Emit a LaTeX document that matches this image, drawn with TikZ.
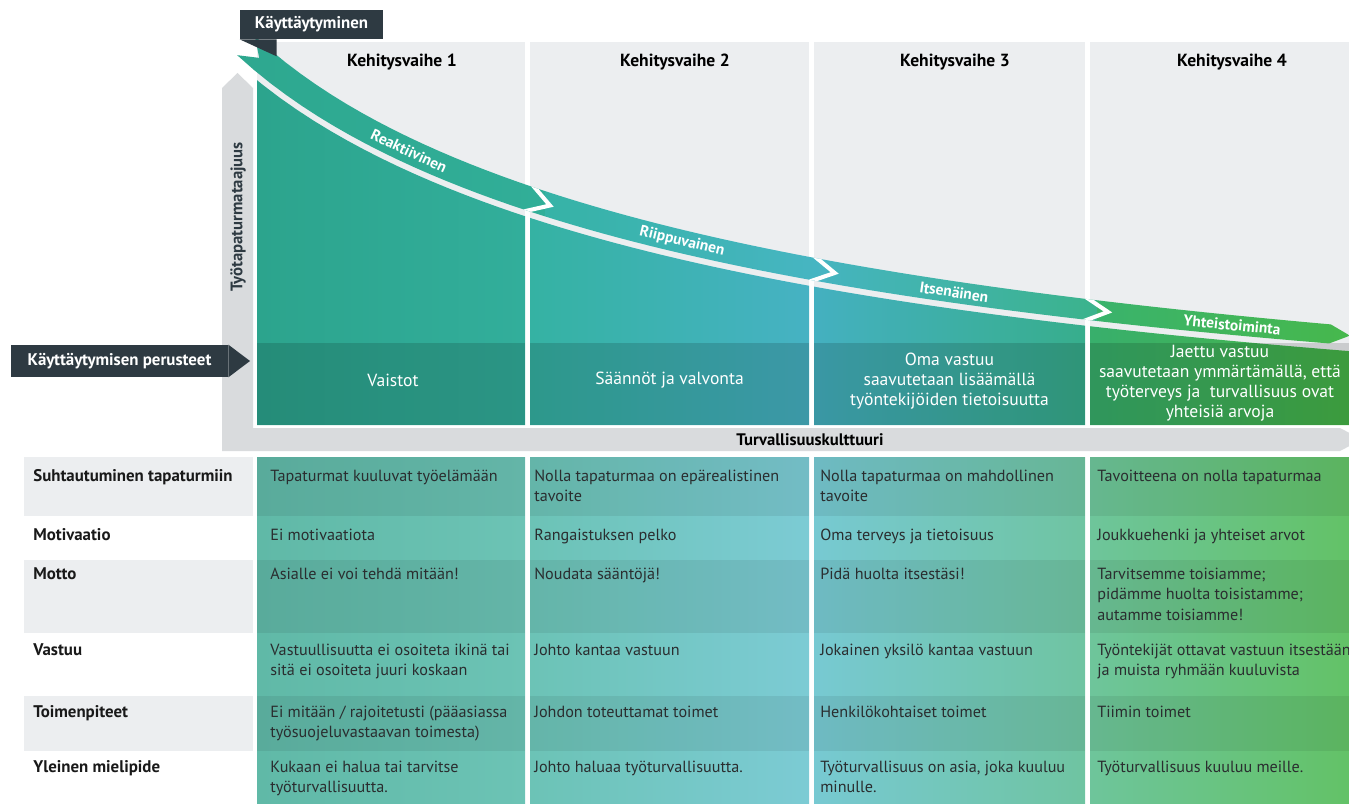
\documentclass[tikz,border=0pt]{standalone}
\usepackage{fontspec}
\setmainfont{PT Sans}
\usepackage{tikz}
\usetikzlibrary{calc}

\definecolor{darkslate}{HTML}{2E3A42}
\definecolor{panelgray}{HTML}{ECEEF0}
\definecolor{framegray}{HTML}{D9DBDD}
\definecolor{celltxt}{HTML}{2A2D2F}

\tikzset{
  darklabel/.style={fill=darkslate, text=white, font=\bfseries\fontsize{9.6}{11}\selectfont, inner sep=0pt},
  headtext/.style={font=\bfseries\fontsize{10}{12}\selectfont, text=black},
  axistext/.style={font=\bfseries\fontsize{9.5}{11}\selectfont, text=darkslate},
  bandtext/.style={font=\bfseries\fontsize{8.8}{10}\selectfont, text=white, inner sep=0pt},
  basetext/.style={font=\fontsize{10}{11.4}\selectfont, text=white, align=center},
  rowlabel/.style={font=\bfseries\fontsize{9.6}{11}\selectfont, anchor=base west, inner sep=0pt, text=black!90},
  celltext/.style={font=\fontsize{9.2}{11.9}\selectfont, anchor=base west, inner sep=0pt, text=celltxt}
}

\newcommand{\cellbox}[1]{\parbox[t]{5.3cm}{\raggedright #1}}
\newcommand{\tablerow}[7]{
    % Row label
    \node[rowlabel] (#1-lab) at (33,#2) {#3};
    % Cells of the four stages
    \node[celltext] (#1-a) at (270,#2) {\cellbox{#4}};
    \node[celltext] (#1-b) at (534,#2) {\cellbox{#5}};
    \node[celltext] (#1-c) at (820,#2) {\cellbox{#6}};
    \node[celltext] (#1-d) at (1097,#2) {\cellbox{#7}};
}

\begin{document}
\begin{tikzpicture}[x=0.02cm, y=-0.02cm,
  declare function={
    cy(\t)=100*(4.729-22.5618/(\t/100+2.935))-10*exp(-(\t-240)/60);
    sl(\t)=22.5618/((\t/100+2.935)^2)+exp(-(\t-240)/60)/6;
    nn(\t)=sqrt(1+sl(\t)^2);
    hw(\t)=13-3.5*(\t-240)/1109;
  }]
  \useasboundingbox (0,0) rectangle (1349,804);

  % Draw the gray frame (axes)
  \fill[framegray] (222,451) -- (222,88) -- (237.5,73) -- (253,88) -- (253,428)
    -- (1340,428) -- (1362,439.5) -- (1340,451) -- cycle;

  % Draw the stage columns
  \foreach \l/\r in {257/525, 530/809, 814/1085, 1090/1349} {
    \fill[panelgray] (\l,42) rectangle (\r,425);
  }

  % Fill the region below the curve
  \begin{scope}
    \clip plot[domain=225:1360, samples=70, variable=\t]
      ({\t-(hw(\t)+6)*sl(\t)/nn(\t)},{cy(\t)+(hw(\t)+6)/nn(\t)}) -- (1360,425) -- (225,425) -- cycle;
    \shade[left color={rgb,255:red,44;green,164;blue,141}, right color={rgb,255:red,50;green,174;blue,155}] (257,30) rectangle (525,425);
    \shade[left color={rgb,255:red,53;green,178;blue,163}, right color={rgb,255:red,70;green,178;blue,195}] (530,30) rectangle (809,425);
    \shade[left color={rgb,255:red,68;green,176;blue,192}, right color={rgb,255:red,55;green,174;blue,140}] (814,30) rectangle (1085,425);
    \shade[left color={rgb,255:red,56;green,175;blue,108}, right color={rgb,255:red,70;green,181;blue,72}] (1090,30) rectangle (1349,425);
  \end{scope}

  % Darker band for the basis row
  \foreach \l/\r in {257/525, 530/809, 814/1085, 1090/1349} {
    \fill[black, opacity=0.14] (\l,343) rectangle (\r,425);
  }

  % Draw the curved arrow
  \begin{scope}
    \clip plot[domain=246:1330, samples=70, variable=\t]
        ({\t+hw(\t)*sl(\t)/nn(\t)},{cy(\t)-hw(\t)/nn(\t)})
      -- ({1330+20/nn(1330)},{cy(1330)+20*sl(1330)/nn(1330)})
      -- plot[domain=1330:246, samples=70, variable=\t]
        ({\t-hw(\t)*sl(\t)/nn(\t)},{cy(\t)+hw(\t)/nn(\t)})
      -- ({246+18/nn(246)},{cy(246)+18*sl(246)/nn(246)}) -- cycle;
    \shade[left color={rgb,255:red,45;green,167;blue,142}, right color={rgb,255:red,49;green,174;blue,152}] (200,10) rectangle (545,360);
    \shade[left color={rgb,255:red,54;green,179;blue,166}, right color={rgb,255:red,71;green,181;blue,195}] (545,10) rectangle (827,360);
    \shade[left color={rgb,255:red,69;green,180;blue,190}, right color={rgb,255:red,59;green,179;blue,140}] (827,10) rectangle (1097,360);
    \shade[left color={rgb,255:red,58;green,179;blue,108}, right color={rgb,255:red,71;green,184;blue,75}] (1097,10) rectangle (1360,360);
    % White cuts between the stages
    \foreach \b in {531, 815, 1088} {
      \coordinate (tip) at ({\b+20/nn(\b)},{cy(\b)+20*sl(\b)/nn(\b)});
      \coordinate (ctop) at ({\b+hw(\b)*sl(\b)/nn(\b)},{cy(\b)-hw(\b)/nn(\b)});
      \coordinate (cbot) at ({\b-hw(\b)*sl(\b)/nn(\b)},{cy(\b)+hw(\b)/nn(\b)});
      \draw[white, line width=2.3pt] ($(tip)!1.8!(ctop)$) -- (tip) -- ($(tip)!1.8!(cbot)$);
    }
  \end{scope}

  % Labels on the arrow
  \node[bandtext, rotate={-atan(sl(409))}] (reakt) at ({409},{cy(409)}) {Reaktiivinen};
  \node[bandtext, rotate={-atan(sl(682))}] (riipp) at ({682},{cy(682)}) {Riippuvainen};
  \node[bandtext, rotate={-atan(sl(954))}] (itsen) at ({954},{cy(954)}) {Itsenäinen};
  \node[bandtext, rotate={-atan(sl(1232))}] (yhteis) at ({1232},{cy(1232)}) {Yhteistoiminta};

  % Dark labels with pointers
  \node[darklabel, minimum width=2.86cm, minimum height=0.58cm] (behav) at (311.5,24.5) {Käyttäytyminen};
  \fill[darkslate] (behav.south west) -- ++(37,0) -- ++(0,17) -- cycle;
  \node[darklabel, minimum width=4.34cm, minimum height=0.64cm] (basis) at (119.5,361) {Käyttäytymisen perusteet};
  \fill[darkslate] (basis.north east) -- (250,361) -- (basis.south east) -- cycle;

  % Axis labels
  \node[axistext, rotate=90] (freq) at (238,217) {Työtapaturmataajuus};
  \node[axistext, text=black] (culture) at (810,440) {Turvallisuuskulttuuri};

  % Stage headers
  \foreach \cx/\n in {402/1, 675/2, 955/3, 1232/4} {
    \node[headtext] (head\n) at (\cx,62) {Kehitysvaihe \n};
  }

  % Basis texts
  \node[basetext] (base1) at (393,380) {Vaistot};
  \node[basetext] (base2) at (669.5,380) {Säännöt ja valvonta};
  \node[basetext] (base3) at (949.5,381) {Oma vastuu\\saavutetaan lisäämällä\\työntekijöiden tietoisuutta};
  \node[basetext] (base4) at (1220,383) {Jaettu vastuu\\saavutetaan ymmärtämällä, että\\työterveys ja~ turvallisuus ovat\\yhteisiä arvoja};

  % Draw the table background
  \foreach \top/\bot/\c in {457/516/panelgray, 516/560/white, 560/633/panelgray, 633/696/white, 696/751/panelgray, 751/804/white} {
    \fill[\c] (24,\top) rectangle (253,\bot);
  }
  \shade[left color={rgb,255:red,96;green,185;blue,167}, right color={rgb,255:red,108;green,195;blue,181}] (257,457) rectangle (525,804);
  \shade[left color={rgb,255:red,108;green,195;blue,182}, right color={rgb,255:red,124;green,203;blue,212}] (530,457) rectangle (809,804);
  \shade[left color={rgb,255:red,119;green,201;blue,210}, right color={rgb,255:red,111;green,196;blue,161}] (814,457) rectangle (1085,804);
  \shade[left color={rgb,255:red,110;green,197;blue,155}, right color={rgb,255:red,99;green,194;blue,103}] (1090,457) rectangle (1349,804);
  \foreach \top/\bot in {457/516, 560/633, 696/751} {
    \foreach \l/\r in {257/525, 530/809, 814/1085, 1090/1349} {
      \fill[black, opacity=0.07] (\l,\top) rectangle (\r,\bot);
    }
  }

  % Table rows
  \tablerow{suht}{481}{Suhtautuminen tapaturmiin}{Tapaturmat kuuluvat työelämään}{Nolla tapaturmaa on epärealistinen\\tavoite}{Nolla tapaturmaa on mahdollinen\\tavoite}{Tavoitteena on nolla tapaturmaa}
  \tablerow{motiv}{540}{Motivaatio}{Ei motivaatiota}{Rangaistuksen pelko}{Oma terveys ja tietoisuus}{Joukkuehenki ja yhteiset arvot}
  \tablerow{motto}{579}{Motto}{Asialle ei voi tehdä mitään!}{Noudata sääntöjä!}{Pidä huolta itsestäsi!}{Tarvitsemme toisiamme;\\pidämme huolta toisistamme;\\autamme toisiamme!}
  \tablerow{vast}{655}{Vastuu}{Vastuullisuutta ei osoiteta ikinä tai\\sitä ei osoiteta juuri koskaan}{Johto kantaa vastuun}{Jokainen yksilö kantaa vastuun}{Työntekijät ottavat vastuun itsestään\\ja muista ryhmään kuuluvista}
  \tablerow{toim}{717}{Toimenpiteet}{Ei mitään / rajoitetusti (pääasiassa\\työsuojeluvastaavan toimesta)}{Johdon toteuttamat toimet}{Henkilökohtaiset toimet}{Tiimin toimet}
  \tablerow{ylei}{772}{Yleinen mielipide}{Kukaan ei halua tai tarvitse\\työturvallisuutta.}{Johto haluaa työturvallisuutta.}{Työturvallisuus on asia, joka kuuluu\\minulle.}{Työturvallisuus kuuluu meille.}
\end{tikzpicture}
\end{document}
